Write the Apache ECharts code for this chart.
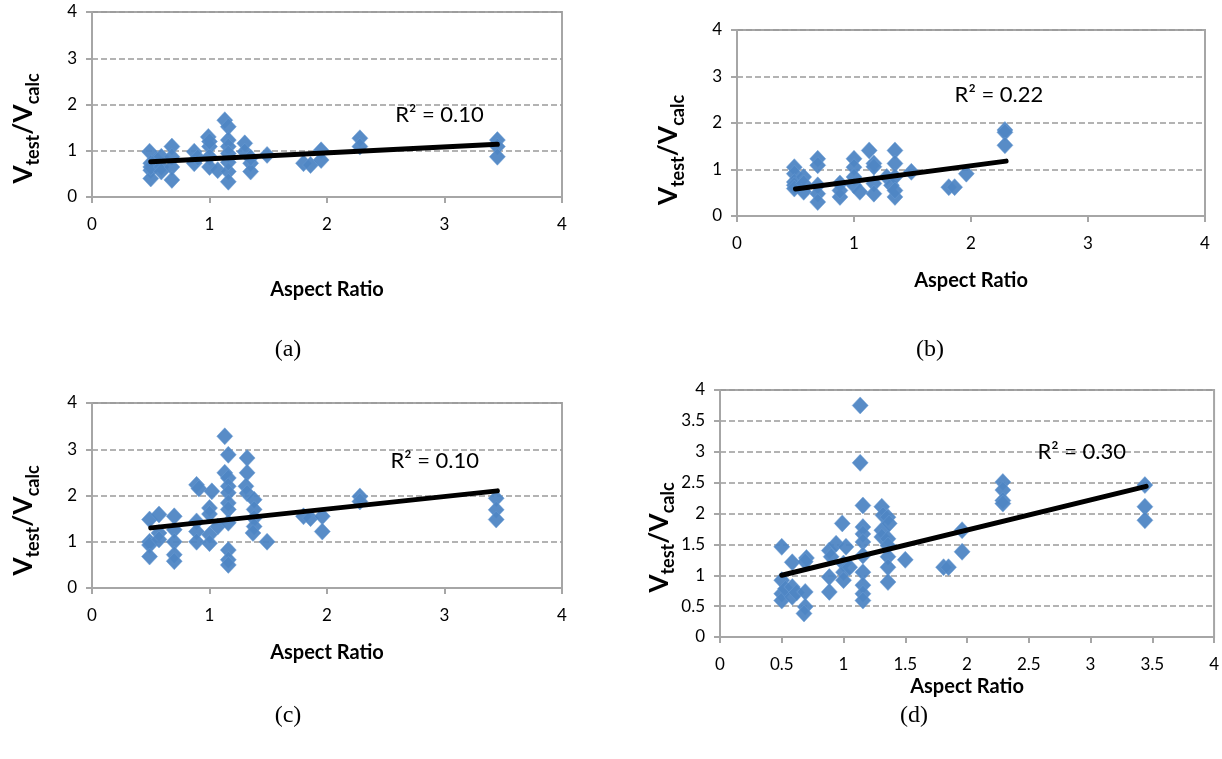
<!DOCTYPE html>
<html><head><meta charset="utf-8">
<script src="https://cdn.jsdelivr.net/npm/echarts@6/dist/echarts.min.js"></script>
<style>html,body{margin:0;padding:0;background:#fff}#c{width:1222px;height:759px}</style>
</head><body><div id="c"></div>
<script>
// ---------- DATA ----------
const xTicksABC = [0, 1, 2, 3, 4];
const yTicksABC = [0, 1, 2, 3, 4];
const xTicksD = [0, 0.5, 1, 1.5, 2, 2.5, 3, 3.5, 4];
const yTicksD = [0, 0.5, 1, 1.5, 2, 2.5, 3, 3.5, 4];

const aPoints = [[0.49,0.98],[0.5,0.73],[0.5,0.58],[0.5,0.40],[0.5,0.65],[0.55,0.80],[0.59,0.87],[0.59,0.65],[0.59,0.55],
  [0.68,1.09],[0.68,0.87],[0.68,0.65],[0.68,0.37],[0.87,0.98],[0.87,0.73],[0.9,0.85],[0.99,1.30],[1.0,1.09],
  [1.0,0.87],[1.0,0.65],[1.0,1.20],[1.07,0.58],[1.13,1.66],[1.16,1.52],[1.16,1.23],[1.16,1.09],[1.16,0.94],
  [1.16,0.55],[1.16,0.33],[1.16,0.75],[1.3,1.16],[1.3,0.98],[1.35,0.73],[1.35,0.55],[1.35,0.85],[1.49,0.91],
  [1.8,0.73],[1.86,0.69],[1.95,1.01],[1.95,0.80],[2.28,1.27],[2.28,1.09],[3.45,1.23],[3.45,1.09],[3.45,0.87]];
const aTrend = [[0.5,0.76],[3.45,1.14]];

const bPoints = [[0.49,1.05],[0.49,0.91],[0.49,0.73],[0.49,0.66],[0.49,0.59],[0.57,0.84],[0.57,0.52],[0.57,0.70],
  [0.69,1.23],[0.69,1.09],[0.69,0.66],[0.69,0.48],[0.69,0.30],[0.88,0.70],[0.88,0.41],[0.88,0.55],
  [1.0,1.23],[1.0,1.05],[1.0,0.84],[1.0,0.66],[1.05,0.52],[1.13,1.41],[1.17,1.13],[1.17,1.06],[1.17,0.70],
  [1.17,0.48],[1.28,0.84],[1.32,0.66],[1.35,1.41],[1.35,1.13],[1.35,0.84],[1.35,0.41],[1.35,0.55],
  [1.49,0.95],[1.81,0.62],[1.86,0.62],[1.96,0.91],[2.29,1.85],[2.29,1.80],[2.29,1.52]];
const bTrend = [[0.5,0.58],[2.3,1.18]];

const cPoints = [[0.49,1.48],[0.49,1.0],[0.49,0.93],[0.49,0.68],[0.57,1.59],[0.57,1.19],[0.57,1.05],
  [0.7,1.55],[0.7,1.26],[0.7,1.0],[0.7,0.72],[0.7,0.58],[0.89,2.23],[0.91,2.15],[0.89,1.44],[0.89,1.22],[0.89,1.0],
  [1.02,2.09],[1.0,1.73],[1.0,1.6],[1.0,1.15],[1.0,0.97],[1.07,1.33],[1.13,3.28],[1.16,2.88],[1.13,2.49],
  [1.16,2.38],[1.16,2.2],[1.16,2.06],[1.16,1.84],[1.16,1.7],[1.16,1.41],[1.16,0.82],[1.16,0.61],[1.16,0.5],
  [1.32,2.81],[1.32,2.49],[1.31,2.2],[1.32,2.05],[1.38,1.91],[1.38,1.7],[1.38,1.51],[1.38,1.33],[1.37,1.19],
  [1.49,1.0],[1.8,1.55],[1.86,1.51],[1.96,1.55],[1.96,1.22],[2.28,1.98],[2.28,1.87],[3.44,1.94],[3.44,1.69],[3.44,1.48]];
const cTrend = [[0.5,1.30],[3.45,2.10]];

const dPoints = [[1.135,3.75],[1.135,2.82],[0.5,1.46],[0.585,1.21],[0.70,1.28],[0.69,1.22],[0.5,0.92],[0.5,0.70],
  [0.5,0.59],[0.53,0.78],[0.585,0.81],[0.585,0.65],[0.62,0.72],[0.69,0.73],[0.69,0.49],[0.68,0.38],[0.885,1.40],[0.9,1.30],[0.885,0.97],
  [0.885,0.73],[0.99,1.84],[0.94,1.51],[1.02,1.46],[1.0,1.19],[1.0,1.05],[1.0,0.92],[1.05,1.13],[1.157,2.13],
  [1.157,1.78],[1.157,1.67],[1.157,1.54],[1.157,1.32],[1.157,1.05],[1.157,0.84],[1.157,0.70],[1.157,0.59],
  [1.31,2.11],[1.32,1.97],[1.31,1.73],[1.31,1.62],[1.36,1.94],[1.37,1.84],[1.36,1.59],[1.36,1.48],[1.36,1.30],
  [1.36,1.13],[1.36,0.89],[1.5,1.25],[1.81,1.13],[1.85,1.13],[1.96,1.73],[1.96,1.38],[2.29,2.51],[2.29,2.38],
  [2.29,2.21],[2.29,2.16],[3.44,2.46],[3.44,2.11],[3.44,1.89]];
const dTrend = [[0.5,1.0],[3.45,2.44]];

const r2Labels = ['R\u00b2 = 0.10', 'R\u00b2 = 0.22', 'R\u00b2 = 0.10', 'R\u00b2 = 0.30'];
const captions = ['(a)', '(b)', '(c)', '(d)'];
const xTitle = 'Aspect Ratio';

// ---------- LAYOUT / STYLE ----------
const FONT = 'Lato, "Liberation Sans", sans-serif';
const panels = [
  {pts: aPoints, trend: aTrend, xt: xTicksABC, yt: yTicksABC, grid: {left: 92, top: 12, width: 470, height: 185},
   r2: [2.58, 1.78], nameGapY: 54, nameShift: 48, nameGapX: 83},
  {pts: bPoints, trend: bTrend, xt: xTicksABC, yt: yTicksABC, grid: {left: 737, top: 30, width: 468, height: 186},
   r2: [1.86, 2.61], nameGapY: 54, nameShift: 54, nameGapX: 55},
  {pts: cPoints, trend: cTrend, xt: xTicksABC, yt: yTicksABC, grid: {left: 92, top: 403, width: 470, height: 185},
   r2: [2.54, 2.74], nameGapY: 54, nameShift: 50, nameGapX: 55},
  {pts: dPoints, trend: dTrend, xt: xTicksD, yt: yTicksD, grid: {left: 720, top: 390, width: 496, height: 247},
   r2: [2.57, 3.0], nameGapY: 40, nameShift: 48, nameGapX: 40}
];
const captionPos = [[288, 350], [930, 350], [288, 716], [914, 716]];

const AX = '#a6a6a6';
const grids = [], xAxes = [], yAxes = [], series = [];
panels.forEach((p, i) => {
  grids.push(Object.assign({show: true, borderColor: AX, borderWidth: 2, containLabel: false}, p.grid));
  const xi = p.xt[1] - p.xt[0], yi = p.yt[1] - p.yt[0];
  xAxes.push({
    type: 'value', gridIndex: i, min: p.xt[0], max: p.xt[p.xt.length - 1], interval: xi,
    name: xTitle, nameLocation: 'middle', nameGap: p.nameGapX,
    nameTextStyle: {fontFamily: FONT, fontWeight: 'bold', fontSize: 20, color: '#000'},
    axisLine: {show: true, onZero: false, lineStyle: {color: AX, width: 2}},
    axisTick: {show: true, inside: false, length: 6, lineStyle: {color: AX, width: 2}},
    axisLabel: {fontFamily: FONT, fontSize: 17, color: '#000', margin: 19,
      formatter: v => String(Math.round(v * 100) / 100)},
    splitLine: {show: false}
  });
  yAxes.push({
    type: 'value', gridIndex: i, min: p.yt[0], max: p.yt[p.yt.length - 1], interval: yi,
    name: '{v|V}{s|test}{v|/V}{s|calc}', nameLocation: 'middle', nameGap: p.nameGapY, nameRotate: 90,
    nameTextStyle: {
      padding: [0, p.nameShift, 0, 0],
      rich: {
        v: {fontFamily: FONT, fontWeight: 'bold', fontSize: 26, color: '#000', verticalAlign: 'top', lineHeight: 27},
        s: {fontFamily: FONT, fontWeight: 'bold', fontSize: 18, color: '#000', verticalAlign: 'top', lineHeight: 19, padding: [13, 0, 0, 0]}
      }
    },
    axisLine: {show: true, onZero: false, lineStyle: {color: AX, width: 2}},
    axisTick: {show: true, inside: false, length: 6, lineStyle: {color: AX, width: 2}},
    axisLabel: {fontFamily: FONT, fontSize: 17, color: '#000', margin: 15,
      formatter: v => String(Math.round(v * 100) / 100)},
    splitLine: {show: true, lineStyle: {color: '#9a9a9a', width: 1.5, type: [6, 3]}}
  });
  series.push({
    type: 'scatter', xAxisIndex: i, yAxisIndex: i, data: p.pts,
    symbol: 'diamond', symbolSize: [16, 17],
    itemStyle: {color: '#4f86c4', opacity: 0.95, borderColor: '#6a9bd4', borderWidth: 0.5},
    silent: true, z: 2
  });
  series.push({
    type: 'line', xAxisIndex: i, yAxisIndex: i, data: p.trend,
    showSymbol: false, symbol: 'none', silent: true,
    lineStyle: {color: '#000', width: 5, cap: 'round'}, z: 3,
    markPoint: {
      silent: true, symbol: 'circle', symbolSize: 0,
      data: [{coord: p.r2, value: 0}],
      label: {show: true, position: 'right', distance: 0, formatter: r2Labels[i],
        fontFamily: FONT, fontSize: 22, color: '#000'}
    }
  });
});

const graphics = captions.map((t, i) => ({
  type: 'text', x: captionPos[i][0], y: captionPos[i][1],
  style: {text: t, fill: '#000', font: '24px "Liberation Serif", "Times New Roman", serif',
    textAlign: 'center', textVerticalAlign: 'middle'}
}));

const chart = echarts.init(document.getElementById('c'), null, {renderer: 'canvas'});
chart.setOption({
  animation: false, backgroundColor: '#fff',
  grid: grids, xAxis: xAxes, yAxis: yAxes, series: series, graphic: graphics
});
</script></body></html>
